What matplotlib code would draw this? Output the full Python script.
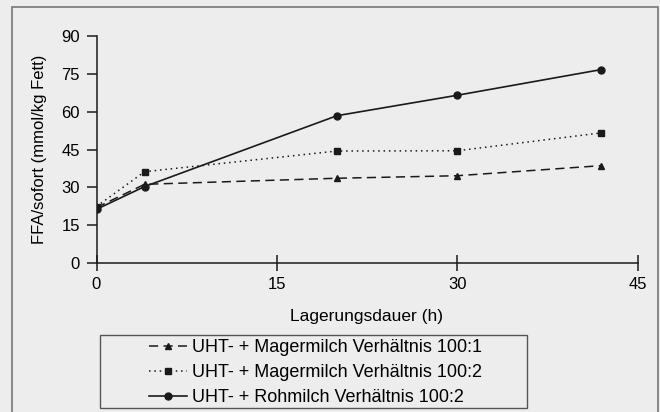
import numpy as np
import matplotlib
matplotlib.use('Agg')
from matplotlib import pyplot as plt
from matplotlib.patches import Rectangle

plt.rcParams['font.family'] = ['Liberation Sans', 'DejaVu Sans']

# storage time (h)
hours = [0, 4, 20, 30, 42]

# FFA values (mmol/kg fat)
mager_100_1 = [22.0, 31.2, 33.6, 34.6, 38.6]
mager_100_2 = [22.4, 36.2, 44.4, 44.5, 51.6]
roh_100_2 = [21.3, 30.3, 58.4, 66.5, 76.7]

labels = ['UHT- + Magermilch Verhältnis 100:1',
          'UHT- + Magermilch Verhältnis 100:2',
          'UHT- + Rohmilch Verhältnis 100:2']

xticks = [0, 15, 30, 45]
yticks = [0, 15, 30, 45, 60, 75, 90]

W, H = 660, 412
bg = '#ededed'
ink = '#1a1a1a'

fig = plt.figure(figsize=(6.6, 4.12), dpi=100, facecolor=bg)
ax = fig.add_axes([96.5 / W, 1 - 263 / H, 541 / W, 227 / H])
ax.set_facecolor(bg)

l1, = ax.plot(hours, mager_100_1, color=ink, lw=1.1, ls=(0, (6, 3.5)),
              marker='^', ms=5, label=labels[0])
l2, = ax.plot(hours, mager_100_2, color=ink, lw=1.1, ls=(0, (1, 2.5)),
              marker='s', ms=5, label=labels[1])
l3, = ax.plot(hours, roh_100_2, color=ink, lw=1.2, ls='-',
              marker='o', ms=5, label=labels[2])

ax.set_xlim(0, 45)
ax.set_ylim(0, 90)
ax.set_xticks(xticks)
ax.set_yticks(yticks)
ax.spines['top'].set_visible(False)
ax.spines['right'].set_visible(False)
for s in ('left', 'bottom'):
	ax.spines[s].set_color(ink)
	ax.spines[s].set_linewidth(1.1)
ax.tick_params(axis='y', direction='out', length=7, width=1.1, color=ink,
               labelsize=12, pad=5)
ax.tick_params(axis='x', direction='inout', length=12, width=1.1, color=ink,
               labelsize=12, pad=4)
ax.set_ylabel('FFA/sofort (mmol/kg Fett)', fontsize=12, labelpad=10)
ax.set_xlabel('Lagerungsdauer (h)', fontsize=12.5, labelpad=12)

leg = fig.legend(handles=[l1, l2, l3], loc='upper left',
                 bbox_to_anchor=(149 / W, 1 - 339 / H), fontsize=13,
                 frameon=False, handlelength=2.1,
                 handletextpad=0.3, labelspacing=0.45, borderpad=0,
                 borderaxespad=0)

# legend box
fig.patches.append(Rectangle((100 / W, 1 - 408 / H), 427 / W, 73 / H,
                             transform=fig.transFigure, fill=False,
                             edgecolor='#555555', lw=1.0))

# outer frame around the chart
fig.patches.append(Rectangle((12 / W, -0.1), 646 / W, 1.1 - 7 / H,
                             transform=fig.transFigure, fill=False,
                             edgecolor='#777777', lw=1.2))

fig.savefig('out.png', dpi=100, facecolor=bg)
